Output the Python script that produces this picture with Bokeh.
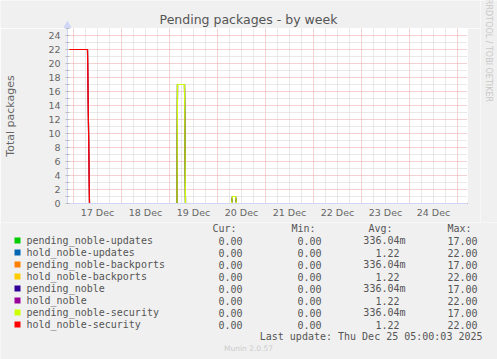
import numpy as np
import pandas as pd
from bokeh.plotting import figure
from bokeh.layouts import column, row
from bokeh.models import Range1d, FixedTicker
from bokeh.core.properties import value
from bokeh.embed import file_html
from bokeh.resources import INLINE

# ---------------- data ----------------
title = "Pending packages - by week"
y_label = "Total packages"

hold_times = ["2025-12-16 21:00", "2025-12-17 07:00", "2025-12-17 08:00", "2025-12-25 05:00"]
pending_times = ["2025-12-16 21:00", "2025-12-19 03:45", "2025-12-19 04:00", "2025-12-19 07:30",
                 "2025-12-19 08:00", "2025-12-20 07:00", "2025-12-20 07:30", "2025-12-20 09:00",
                 "2025-12-20 09:30", "2025-12-25 05:00"]

pending_noble_updates = [0, 0, 17, 17, 0, 0, 1, 1, 0, 0]
hold_noble_updates = [22, 22, 0, 0]
pending_noble_backports = [0, 0, 17, 17, 0, 0, 1, 1, 0, 0]
hold_noble_backports = [22, 22, 0, 0]
pending_noble = [0, 0, 17, 17, 0, 0, 1, 1, 0, 0]
hold_noble = [22, 22, 0, 0]
pending_noble_security = [0, 0, 17, 17, 0, 0, 1, 1, 0, 0]
hold_noble_security = [22, 22, 0, 0]

series_names = ["pending_noble-updates", "hold_noble-updates", "pending_noble-backports",
                "hold_noble-backports", "pending_noble", "hold_noble",
                "pending_noble-security", "hold_noble-security"]
series_colors = ["#00CC00", "#0066B3", "#FF8000", "#FFCC00", "#330099", "#990099",
                 "#CCFF00", "#FF0000"]
series_values = [pending_noble_updates, hold_noble_updates, pending_noble_backports,
                 hold_noble_backports, pending_noble, hold_noble,
                 pending_noble_security, hold_noble_security]
series_times = [pending_times, hold_times] * 4

cur_vals = ["0.00"] * 8
min_vals = ["0.00"] * 8
avg_vals = ["336.04m", "1.22", "336.04m", "1.22", "336.04m", "1.22", "336.04m", "1.22"]
max_vals = ["17.00", "22.00", "17.00", "22.00", "17.00", "22.00", "17.00", "22.00"]
stat_headers = ["Cur:", "Min:", "Avg:", "Max:"]

x_start = "2025-12-16 21:00"
x_end = "2025-12-25 05:00"
day_labels = ["17 Dec", "18 Dec", "19 Dec", "20 Dec", "21 Dec", "22 Dec", "23 Dec", "24 Dec"]
day_label_times = ["2025-12-17 12:00", "2025-12-18 12:00", "2025-12-19 12:00", "2025-12-20 12:00",
                   "2025-12-21 12:00", "2025-12-22 12:00", "2025-12-23 12:00", "2025-12-24 12:00"]
last_update = "Last update: Thu Dec 25 05:00:03 2025"
version_text = "Munin 2.0.57"
rrd_text = "RRDTOOL / TOBI OETIKER"


def ms(s):
    return pd.Timestamp(s).value // 10**6


# ---------------- layout constants ----------------
W = 497
WR = 17                # right strip (rrdtool credit)
WM = W - WR            # main column width
TH = 28                # title strip height
H1 = 222               # chart bottom (canvas y) / legend top
H2 = 359 - H1
FL, FR, FB = 67, 467, 203
FONT = "DejaVu Sans"
MONO = "DejaVu Sans Mono"
FC = "#666666"
AXIS = "#CFD6F8"
BG = "#F0F0F0"


def blank(w, h, x0, x1, y_top, y_bot):
    f = figure(width=w, height=h, output_backend="svg", toolbar_location=None, title=None,
               x_range=Range1d(x0, x1), y_range=Range1d(y_bot, y_top), frame_align=False,
               min_border_left=0, min_border_right=0, min_border_top=0, min_border_bottom=0)
    f.axis.visible = False
    f.grid.visible = False
    f.outline_line_color = None
    f.background_fill_color = BG
    f.border_fill_color = BG
    return f


# ---------------- title strip ----------------
t = blank(WM, TH, 0, WM, 0, TH)
t.text(x=[248], y=[19], text=[title], text_align="center", text_baseline="middle",
       text_font=value(FONT), text_font_size="12.5px", text_color="#555555")
t.scatter(x=[FL], y=[25], marker="triangle", size=7, fill_color=AXIS, line_color=AXIS)

# ---------------- chart ----------------
p = figure(width=WM, height=H1 - TH, x_axis_type="datetime", output_backend="svg",
           toolbar_location=None, title=None, frame_align=False,
           x_range=Range1d(ms(x_start), ms(x_end)), y_range=Range1d(0, 25),
           min_border_left=FL, min_border_right=WM - FR, min_border_top=0,
           min_border_bottom=H1 - FB)
p.background_fill_color = "white"
p.border_fill_color = BG
p.outline_line_color = None

midnights = [ms(t_) for t_ in pd.date_range("2025-12-17", "2025-12-25", freq="D")]
six_hours = [ms(t_) for t_ in pd.date_range("2025-12-16 18:00", "2025-12-25 06:00", freq="6h")
             if t_.hour != 0]
y_major = list(range(0, 25, 2))
y_minor = list(range(1, 26, 2))
p.xgrid.ticker = FixedTicker(ticks=midnights, minor_ticks=six_hours)
p.ygrid.ticker = FixedTicker(ticks=y_major, minor_ticks=y_minor)
for g in (p.xgrid, p.ygrid):
    g.grid_line_color = "#EBA2A2"
    g.grid_line_dash = "1 1"
    g.grid_line_width = 1
    g.minor_grid_line_color = "#D2D2D2"
    g.minor_grid_line_dash = "1 1"
    g.minor_grid_line_width = 1

p.yaxis.ticker = FixedTicker(ticks=y_major, minor_ticks=y_minor)
p.xaxis.ticker = FixedTicker(ticks=[ms(t_) for t_ in day_label_times])
p.xaxis.major_label_overrides = {ms(t_): lab for t_, lab in zip(day_label_times, day_labels)}
for ax in (p.xaxis, p.yaxis):
    ax.axis_line_color = AXIS
    ax.major_label_text_font = FONT
    ax.major_label_text_font_size = "9.5px"
    ax.major_label_text_color = FC
p.xaxis.major_tick_line_color = None
p.xaxis.minor_tick_line_color = None
p.xaxis.major_tick_out = 0
p.xaxis.minor_tick_out = 0
p.xaxis.major_tick_in = 0
p.xaxis.major_label_standoff = 3
p.yaxis.major_tick_line_color = "#BBBBBB"
p.yaxis.minor_tick_line_color = "#BBBBBB"
p.yaxis.major_tick_in = 2
p.yaxis.major_tick_out = 2
p.yaxis.minor_tick_in = 2
p.yaxis.minor_tick_out = 2
p.yaxis.major_label_standoff = 5
p.yaxis.axis_label = y_label
p.yaxis.axis_label_text_font = FONT
p.yaxis.axis_label_text_font_size = "11px"
p.yaxis.axis_label_text_font_style = "normal"
p.yaxis.axis_label_text_color = FC
p.yaxis.axis_label_standoff = 28

for name, col, tms, vals in zip(series_names, series_colors, series_times, series_values):
    p.line([ms(t_) for t_ in tms], vals, line_color=col, line_width=1.2)
# the first series' zero baseline is on top in the reference
zero_part = [0 if v == 0 else np.nan for v in pending_noble_updates]
p.line([ms(t_) for t_ in pending_times], zero_part, line_color=series_colors[0], line_width=1.2)

# ---------------- rrdtool credit strip ----------------
r = blank(WR, H1, WM, W, 0, H1)
r.text(x=[488], y=[50], text=[rrd_text], angle=-np.pi / 2, text_align="center",
       text_baseline="middle", text_font=value(FONT), text_font_size="8px",
       text_color="#C8C8C8")
r.scatter(x=[WM - 10], y=[FB], marker="triangle", angle=-np.pi / 2, size=7,
          fill_color=AXIS, line_color=AXIS)

# ---------------- legend part ----------------
q = blank(W, H2, 0, W, H1, 359)
row_y = [240 + 12 * i for i in range(len(series_names))]
mono = dict(text_font=value(MONO), text_font_size="10px", text_color="#555555",
            text_baseline="middle")
q.text(x=[212, 291, 368, 447], y=[228] * 4, text=stat_headers, text_align="left", **mono)
q.scatter(x=[17] * 8, y=row_y, marker="square", size=6, fill_color=series_colors,
          line_color=None)
q.text(x=[26] * 8, y=row_y, text=series_names, text_align="left", **mono)
q.text(x=[242] * 8, y=row_y, text=cur_vals, text_align="right", **mono)
q.text(x=[321] * 8, y=row_y, text=min_vals, text_align="right", **mono)
q.text(x=[405 if a.endswith("m") else 399 for a in avg_vals], y=row_y, text=avg_vals,
       text_align="right", **mono)
q.text(x=[477] * 8, y=row_y, text=max_vals, text_align="right", **mono)
q.text(x=[482], y=[336], text=[last_update], text_align="right", **mono)
q.text(x=[248], y=[348], text=[version_text], text_align="center", text_baseline="middle",
       text_font=value(FONT), text_font_size="7.5px", text_color="#CCCCCC")

layout = column(row(column(t, p, spacing=0), r, spacing=0), q, spacing=0)
open("out.html", "w").write(file_html(layout, INLINE))
